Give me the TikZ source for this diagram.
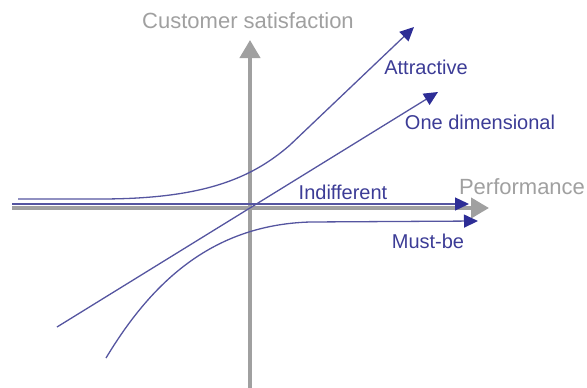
\documentclass[tikz,border=0pt]{standalone}
\usepackage{fontspec}
\setmainfont{Liberation Sans}
\usetikzlibrary{arrows.meta}
\definecolor{axisgray}{RGB}{160,160,160}
\definecolor{curveblue}{RGB}{85,85,160}
\definecolor{tipblue}{RGB}{45,45,150}
\definecolor{textblue}{RGB}{60,60,150}
\begin{document}
\begin{tikzpicture}[x=1pt,y=-1pt,
    axisline/.style={axisgray, line width=4pt, -{Triangle[length=18pt,width=20pt]}},
    curve/.style={curveblue, line width=1.3pt, -{Triangle[length=14pt,width=13pt,color=tipblue]}},
    axislabel/.style={text=axisgray, inner sep=0pt, font=\fontsize{22}{26}\selectfont},
    curvelabel/.style={text=textblue, inner sep=0pt, font=\fontsize{20}{24}\selectfont}]
    \useasboundingbox (0,0) rectangle (587,388);
    % Axes
    \coordinate (xstart) at (12,208);
    \coordinate (xend) at (489,208);
    \coordinate (ystart) at (250,388);
    \coordinate (yend) at (250,40);
    \draw[axisline] (xstart) -- (xend);
    \draw[axisline] (ystart) -- (yend);
    \node[axislabel] (perf) at (522,187) {Performance};
    \node[axislabel] (sat) at (248,21) {Customer satisfaction};
    % Curves
    \coordinate (indstart) at (12,204);
    \coordinate (indend) at (469,204);
    \draw[curve] (indstart) -- (indend);
    \coordinate (attstart) at (18,199);
    \coordinate (attend) at (414,27);
    \draw[curve] (attstart) -- (100,199) .. controls (200,199) and (250,180) .. (290,145) -- (attend);
    \coordinate (onestart) at (57,327);
    \coordinate (oneend) at (438,92);
    \draw[curve] (onestart) -- (oneend);
    \coordinate (muststart) at (106,358);
    \coordinate (mustend) at (478,221);
    \draw[curve] (muststart) .. controls (150,285) and (210,225) .. (310,222) -- (mustend);
    % Labels
    \node[curvelabel] (att) at (426,67) {Attractive};
    \node[curvelabel] (one) at (480,122) {One dimensional};
    \node[curvelabel] (ind) at (343,192) {Indifferent};
    \node[curvelabel] (must) at (428,241) {Must-be};
\end{tikzpicture}
\end{document}
